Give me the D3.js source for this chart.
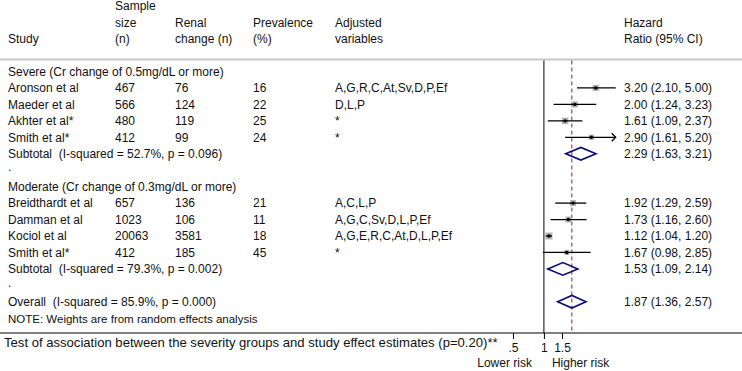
<!DOCTYPE html>
<html><head><meta charset="utf-8">
<script src="https://cdn.jsdelivr.net/npm/d3@7"></script>
<style>
html,body{margin:0;padding:0;background:#fff;}
text{font-family:"Liberation Sans",Arial,Helvetica,sans-serif;fill:#111;white-space:pre;}
</style></head>
<body>
<svg id="chart" width="742" height="371"></svg>
<script>
// ---------- data ----------
const studies     = ["Aronson et al","Maeder et al","Akhter et al*","Smith et al*","Breidthardt et al","Damman et al","Kociol et al","Smith et al*"];
const groups      = ["Severe","Severe","Severe","Severe","Moderate","Moderate","Moderate","Moderate"];
const sampleSize  = [467,566,480,412,657,1023,20063,412];
const renalChange = [76,124,119,99,136,106,3581,185];
const prevalence  = [16,22,25,24,21,11,18,45];
const adjusted    = ["A,G,R,C,At,Sv,D,P,Ef","D,L,P","*","*","A,C,L,P","A,G,C,Sv,D,L,P,Ef","A,G,E,R,C,At,D,L,P,Ef","*"];
const hr          = [3.20,2.00,1.61,2.90,1.92,1.73,1.12,1.67];
const hrLower     = [2.10,1.24,1.09,1.61,1.29,1.16,1.04,0.98];
const hrUpper     = [5.00,3.23,2.37,5.20,2.59,2.60,1.20,2.85];
const weights     = [27,25,29,19,25,24,33,18];   // estimated random-effects weights

const groupNames  = ["Severe","Moderate"];
const groupTitles = ["Severe (Cr change of 0.5mg/dL or more)","Moderate (Cr change of 0.3mg/dL or more)"];
const subHR       = [2.29,1.53];
const subLower    = [1.63,1.09];
const subUpper    = [3.21,2.14];
const subI2       = ["52.7%","79.3%"];
const subP        = ["0.096","0.002"];
const overall     = {hr:1.87, lo:1.36, hi:2.57, i2:"85.9%", p:"0.000"};
const tickValues  = [0.5,1,1.5];
const tickLabels  = [".5","1","1.5"];

// ---------- layout ----------
const svg = d3.select("#chart");
const W = 742;
const x = d3.scaleLog().domain([0.5,5]).range([513,615.7]);
const rowY = d3.scaleLinear().domain([0,1]).range([71.5,87.95]);
const fmt = d3.format(".2f");
const col = {study:8, n:115, renal:175, prev:253, adj:335, hr:624};
const fs = 12;

function txt(xp, yc, s, opts={}){
  return svg.append("text").attr("x",xp).attr("y",yc+4.2)
    .attr("xml:space","preserve")
    .attr("font-size",opts.size||fs).attr("text-anchor",opts.anchor||"start").text(s);
}

// header
[["Sample",6],["size",22.5],["(n)",39]].forEach(([s,y])=>txt(col.n,y,s));
txt(col.study,39,"Study");
txt(col.renal,22.5,"Renal"); txt(col.renal,39,"change (n)");
txt(col.prev,22.5,"Prevalence"); txt(col.prev,39,"(%)");
txt(col.adj,22.5,"Adjusted"); txt(col.adj,39,"variables");
txt(col.hr,22.5,"Hazard"); txt(col.hr,39,"Ratio (95% CI)");

const topY = 59.5, axisY = 333;
svg.append("line").attr("x1",0).attr("x2",W).attr("y1",topY).attr("y2",topY)
  .attr("stroke","#c8c8c8").attr("stroke-width",2);

// build row list
const rows = [];
let r = 0;
groupNames.forEach((g,gi)=>{
  rows.push({type:"title", i:r++, label:groupTitles[gi]});
  studies.forEach((s,k)=>{ if(groups[k]===g) rows.push({type:"study", i:r++, k}); });
  rows.push({type:"sub", i:r++, gi});
  rows.push({type:"dot", i:r++});
});
rows.push({type:"overall", i:r++});
rows.push({type:"note", i:r++});

// reference lines
svg.append("line").attr("x1",x(1)).attr("x2",x(1)).attr("y1",topY+1).attr("y2",axisY)
  .attr("stroke","#000").attr("stroke-width",1);
svg.append("line").attr("x1",x(overall.hr)).attr("x2",x(overall.hr)).attr("y1",topY+1).attr("y2",axisY)
  .attr("stroke","#8c3b4a").attr("stroke-width",1.1).attr("stroke-dasharray","4,3");

const boxSize = d3.scaleSqrt().domain([0,33]).range([0,7]);

function diamond(yc, lo, est, hi){
  const h = 6.3;
  svg.append("path")
    .attr("d",`M${x(lo)},${yc} L${x(est)},${yc-h} L${x(hi)},${yc} L${x(est)},${yc+h} Z`)
    .attr("fill","none").attr("stroke","#0a0a78").attr("stroke-width",1.6);
}

rows.forEach(row=>{
  const yc = rowY(row.i);
  if(row.type==="title"){ txt(col.study,yc,row.label); }
  else if(row.type==="dot"){ txt(col.study,yc-3,"."); }
  else if(row.type==="study"){
    const k = row.k;
    txt(col.study,yc,studies[k]);
    txt(col.n,yc,String(sampleSize[k]));
    txt(col.renal,yc,String(renalChange[k]));
    txt(col.prev,yc,String(prevalence[k]));
    txt(col.adj,yc,adjusted[k]);
    txt(col.hr,yc,`${fmt(hr[k])} (${fmt(hrLower[k])}, ${fmt(hrUpper[k])})`);
    const b = boxSize(weights[k]);
    svg.append("rect").attr("x",x(hr[k])-b/2).attr("y",yc-b/2).attr("width",b).attr("height",b)
      .attr("fill","#b4b4b4");
    const [d0,d1] = x.domain();
    const hiC = Math.min(hrUpper[k],d1), loC = Math.max(hrLower[k],d0);
    svg.append("line").attr("x1",x(loC)).attr("x2",x(hiC)).attr("y1",yc).attr("y2",yc)
      .attr("stroke","#000").attr("stroke-width",1.3);
    if(hrUpper[k]>d1){
      svg.append("path").attr("d",`M${x(d1)-4},${yc-4} L${x(d1)},${yc} L${x(d1)-4},${yc+4}`)
        .attr("fill","none").attr("stroke","#000").attr("stroke-width",1.3);
    }
    svg.append("circle").attr("cx",x(hr[k])).attr("cy",yc).attr("r",1.7).attr("fill","#000");
  }
  else if(row.type==="sub"){
    const gi = row.gi;
    txt(col.study,yc,`Subtotal  (I-squared = ${subI2[gi]}, p = ${subP[gi]})`);
    txt(col.hr,yc,`${fmt(subHR[gi])} (${fmt(subLower[gi])}, ${fmt(subUpper[gi])})`);
    diamond(yc, subLower[gi], subHR[gi], subUpper[gi]);
  }
  else if(row.type==="overall"){
    txt(col.study,yc,`Overall  (I-squared = ${overall.i2}, p = ${overall.p})`);
    txt(col.hr,yc,`${fmt(overall.hr)} (${fmt(overall.lo)}, ${fmt(overall.hi)})`);
    diamond(yc, overall.lo, overall.hr, overall.hi);
  }
  else if(row.type==="note"){
    txt(col.study,yc+1,"NOTE: Weights are from random effects analysis",{size:11.5});
  }
});

// axis
svg.append("line").attr("x1",0).attr("x2",W).attr("y1",axisY).attr("y2",axisY)
  .attr("stroke","#000").attr("stroke-width",1.2);
const axis = d3.axisBottom(x).tickValues(tickValues).tickSize(6).tickPadding(4)
  .tickFormat((d,i)=>tickLabels[i]);
const ag = svg.append("g").attr("transform",`translate(0,${axisY})`).call(axis);
ag.select(".domain").remove();
ag.selectAll("text").attr("font-size",12).attr("font-family","Liberation Sans, Arial, sans-serif").attr("fill","#111");
ag.selectAll("line").attr("stroke","#000");

txt(x(1)-12,363,"Lower risk",{anchor:"end"});
txt(x(1)+8,363,"Higher risk");

txt(4,343,"Test of association between the severity groups and study effect estimates (p=0.20)**",{size:13.1});
</script>
</body></html>
